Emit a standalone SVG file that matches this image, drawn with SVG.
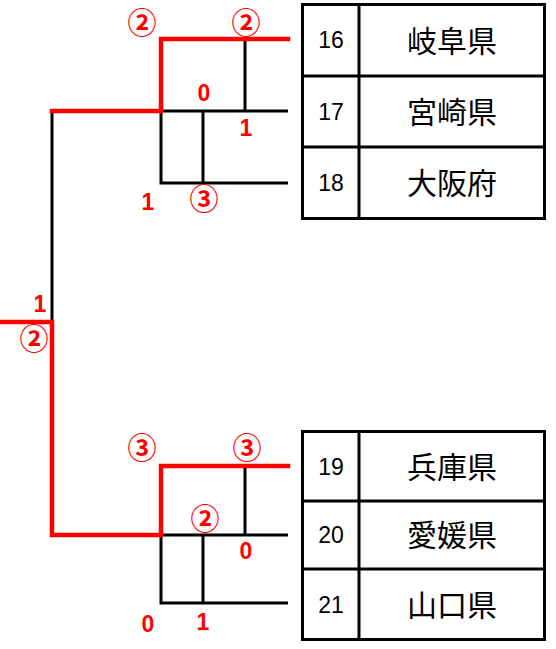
<svg xmlns="http://www.w3.org/2000/svg" width="556" height="649" viewBox="0 0 556 649">
<style>
.bk{stroke:#000;stroke-width:3;fill:none}
.rd{stroke:#f00;stroke-width:4.5;fill:none;stroke-linecap:square}
.tb{stroke:#000;stroke-width:3;fill:#fff}
.num{font-family:"Liberation Sans",Arial,sans-serif;font-size:23px;fill:#000;text-anchor:middle}
.jp{font-family:"Noto Sans CJK JP","Noto Sans CJK SC",sans-serif;font-size:30px;fill:#000;text-anchor:middle}
.rl{font-family:"Liberation Sans",Arial,sans-serif;font-size:23px;font-weight:bold;fill:#f00;text-anchor:middle}
.rc{font-family:"Noto Sans CJK JP","Noto Sans CJK SC",sans-serif;font-size:29px;font-weight:bold;fill:#f00;text-anchor:middle}
</style>
<rect width="556" height="649" fill="#fff"/>
<g id="connectors">
  <path class="bk" d="M161,111 H288 M245,39 V111 M161,111 V183 H288 M203,111 V183"/>
  <path class="bk" d="M161,535 H288 M245,466 V535 M161,535 V603 H288 M203,535 V603"/>
  <path class="bk" d="M52,111 V322"/>
  <path class="rd" d="M288,39 H161 V111 H52"/>
  <path class="rd" d="M0,322 H52 V535 H161 V466 H288"/>
</g>
<g id="table-top">
  <rect class="tb" x="302.5" y="4.5" width="242" height="214"/>
  <path class="bk" d="M359,4.5 V218.5 M302.5,76 H544.5 M302.5,147 H544.5"/>
</g>
<g id="node-16"><text class="num" x="331" y="48">16</text><text class="jp" x="452" y="52">岐阜県</text></g>
<g id="node-17"><text class="num" x="331" y="120">17</text><text class="jp" x="452" y="123">宮崎県</text></g>
<g id="node-18"><text class="num" x="331" y="191">18</text><text class="jp" x="452" y="194">大阪府</text></g>
<g id="table-bottom">
  <rect class="tb" x="302.5" y="431.5" width="242" height="208"/>
  <path class="bk" d="M359,431.5 V639.5 M302.5,501 H544.5 M302.5,569 H544.5"/>
</g>
<g id="node-19"><text class="num" x="331" y="475">19</text><text class="jp" x="452" y="478">兵庫県</text></g>
<g id="node-20"><text class="num" x="331" y="543">20</text><text class="jp" x="452" y="546">愛媛県</text></g>
<g id="node-21"><text class="num" x="331" y="613">21</text><text class="jp" x="452" y="616">山口県</text></g>
<g id="labels">
  <text class="rc" x="142" y="34">②</text>
  <text class="rc" x="246" y="34">②</text>
  <text class="rl" x="204" y="101">0</text>
  <text class="rl" x="246" y="136">1</text>
  <text class="rl" x="148" y="210">1</text>
  <text class="rc" x="204" y="210">③</text>
  <text class="rl" x="40" y="312">1</text>
  <text class="rc" x="34" y="350">②</text>
  <text class="rc" x="142" y="459">③</text>
  <text class="rc" x="247" y="459">③</text>
  <text class="rc" x="205" y="530">②</text>
  <text class="rl" x="246" y="559">0</text>
  <text class="rl" x="148" y="632">0</text>
  <text class="rl" x="203" y="630">1</text>
</g>
</svg>
